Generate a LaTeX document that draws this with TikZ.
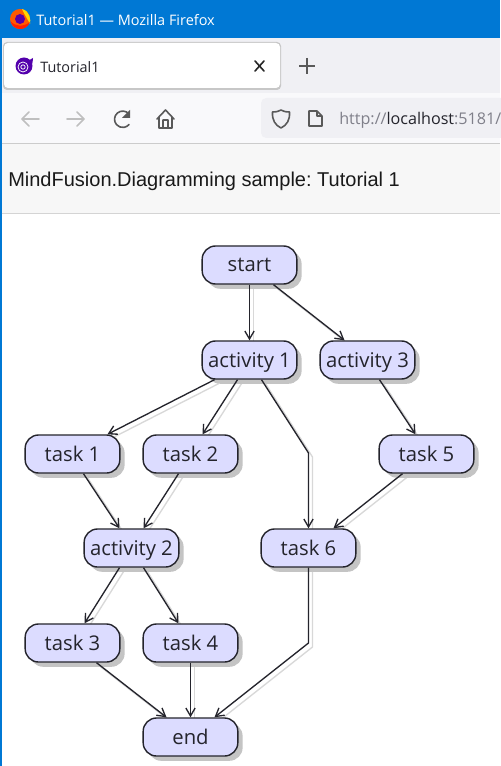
\documentclass[tikz,border=0pt]{standalone}
\usepackage{fontspec}
\setmainfont{Open Sans}
\newfontfamily\arialfont{Liberation Sans}
\usetikzlibrary{arrows.meta,backgrounds,shadows}
\definecolor{winblue}{HTML}{0078D4}
\definecolor{tabbar}{HTML}{F0F0F4}
\definecolor{toolbar}{HTML}{F9F9FB}
\definecolor{headerbg}{HTML}{F7F7F7}
\definecolor{boxfill}{HTML}{DCDCFF}
\definecolor{boxshadow}{HTML}{C4C4C4}
\definecolor{linkgray}{HTML}{D8D8D8}
\definecolor{inkdark}{HTML}{24242C}
\definecolor{urlgray}{HTML}{80808A}
\begin{document}
\begin{tikzpicture}[
        x=0.75pt,y=-0.75pt,
        box/.style={rectangle,draw=inkdark,line width=1.05pt,fill=boxfill,rounded corners=10pt,
            minimum width=71pt,minimum height=28.5pt,inner sep=0pt,text=inkdark,
            text height=11pt,text depth=0.5pt,
            font=\fontsize{15.2}{18}\selectfont,
            drop shadow={shadow xshift=3.6pt,shadow yshift=-3.6pt,fill=boxshadow,opacity=1}},
        link/.style={draw=inkdark,line width=1pt,-{Straight Barb[length=6pt,width=7pt]}},
        linkshadow/.style={draw=linkgray,line width=1pt,transform canvas={xshift=3pt,yshift=-3pt}},
        icon/.style={draw=#1,line width=1.2pt,line cap=round,line join=round},
        label/.style={inner sep=0pt,anchor=west}
    ]
        \useasboundingbox (0,0) rectangle (500,766);

        \begin{scope}[on background layer]
            \fill[white] (0,0) rectangle (500,766);
        \end{scope}
        \fill[winblue] (0,0) rectangle (500,38);
        \fill[winblue] (0,38) rectangle (1.5,766);
        \fill[tabbar] (1.5,38) rectangle (500,93);
        \fill[toolbar] (1.5,93) rectangle (500,143);
        \fill[headerbg] (1.5,144) rectangle (500,213);
        \draw[draw=black!20] (1.5,143.5) -- (500,143.5);
        \draw[draw=black!17] (1.5,213.5) -- (500,213.5);
        \fill[black!22,rounded corners=3pt] (3,42) rectangle (281,90);
        \fill[white,rounded corners=3pt] (4,43) rectangle (280,88);
        \fill[tabbar,rounded corners=4pt] (261,98) rectangle (510,138);

        \fill[orange!70!red] (20,19) circle (10);
        \fill[yellow!75!orange] (22,9) .. controls (30,11) and (31,20) .. (30,24) .. controls (27,18) and (24,14) .. (22,9);
        \fill[violet!70!blue] (20,19) circle (5);
        \fill[red!75!orange] (10.5,21) .. controls (13,31) and (26,32) .. (30,22) .. controls (24,27) and (15,27) .. (10.5,21);
        \node[label,text=white,font=\fontsize{10.85}{14}\selectfont] (wintitle) at (36,20) {Tutorial1 — Mozilla Firefox};

        \fill[violet!65!blue] (24,66) circle (8.5);
        \fill[violet!65!blue] (24,60) .. controls (28,61) and (31,60) .. (33,58) .. controls (33,63) and (31,69) .. (28,73) -- cycle;
        \draw[white,line width=0.55pt] (23,67) circle (5);
        \draw[white,line width=0.55pt] (23,67) circle (2.2);
        \node[label,text=inkdark,font=\fontsize{10.8}{13}\selectfont] (tabtitle) at (40,67) {Tutorial1};
        \draw[icon=black!85] (255,61) -- (264,71) (264,61) -- (255,71);
        \draw[draw=black!65,line width=1pt] (307,58) -- (307,74) (299,66) -- (315,66);

        \draw[icon=black!25] (22,119) -- (39,119) (29,112) -- (22,119) -- (29,126);
        \draw[icon=black!25] (67,119) -- (84,119) (77,112) -- (84,119) -- (77,126);
        \draw[icon=black!65] (129,114) arc (-40:-320:8.2);
        \fill[black!65] (130,110) -- (130,118) -- (122,118) -- cycle;
        \draw[icon=black!65] (157,119) -- (165.5,110) -- (174,119) (159,117) -- (159,128) -- (172,128) -- (172,117) (163,128) -- (163,120) -- (168,120) -- (168,128);
        \draw[icon=black!65] (281,110) .. controls (277,112) and (275,112) .. (272.5,112) .. controls (272,120) and (275,125) .. (281,128) .. controls (287,125) and (290,120) .. (289.5,112) .. controls (287,112) and (285,112) .. (281,110) -- cycle;
        \draw[icon=black!65] (309,111) -- (317,111) -- (322,116) -- (322,126) -- (309,126) -- cycle (317,111) -- (317,116) -- (322,116);
        \node[label,font=\fontsize{12.1}{14}\selectfont] (urltext) at (339,120) {\textcolor{urlgray}{http://}\textcolor{inkdark}{localhost}\textcolor{urlgray}{:5181/}};

        \node[label,text=black!90,font=\arialfont\fontsize{15}{18}\selectfont\frenchspacing] (sampletitle) at (8,181) {MindFusion.Diagramming sample: Tutorial 1};

        \node[box] (start) at (249.5,265) {start};
        \node[box] (activity1) at (249.5,360) {activity 1};
        \node[box] (activity3) at (367.5,360) {activity 3};
        \node[box] (task1) at (72.5,454) {task 1};
        \node[box] (task2) at (190.5,454) {task 2};
        \node[box] (task5) at (426.5,454) {task 5};
        \node[box] (activity2) at (131.5,548) {activity 2};
        \node[box] (task6) at (308.5,548) {task 6};
        \node[box] (task3) at (72.5,643) {task 3};
        \node[box] (task4) at (190.5,643) {task 4};
        \node[box] (end) at (190.5,737) {end};
        \coordinate (bend1) at (308.5,453);
        \coordinate (bend2) at (308.5,643);

        \foreach \a/\i/\b/\j in {start/0/activity1/0,start/24/activity3/-23,activity1/-35/task1/35,
            activity1/-12/task2/12,activity3/12/task5/-11,task1/11/activity2/-12,task2/-12/activity2/12,
            task5/-24/task6/25,activity2/-12/task3/12,activity2/12/task4/-12,task3/24/end/-24,task4/0/end/0} {
            \begin{scope}[on background layer]
                \draw[linkshadow] ([shift={(\i,0)}]\a.south) -- ([shift={(\j,0)}]\b.north);
            \end{scope}
            \draw[link] ([shift={(\i,0)}]\a.south) -- ([shift={(\j,0)}]\b.north);
        }
        \begin{scope}[on background layer]
            \draw[linkshadow] ([shift={(12,0)}]activity1.south) -- (bend1) -- (task6.north);
            \draw[linkshadow] (task6.south) -- (bend2) -- ([shift={(24,0)}]end.north);
        \end{scope}
        \draw[link] ([shift={(12,0)}]activity1.south) -- (bend1) -- (task6.north);
        \draw[link] (task6.south) -- (bend2) -- ([shift={(24,0)}]end.north);
    \end{tikzpicture}
\end{document}
